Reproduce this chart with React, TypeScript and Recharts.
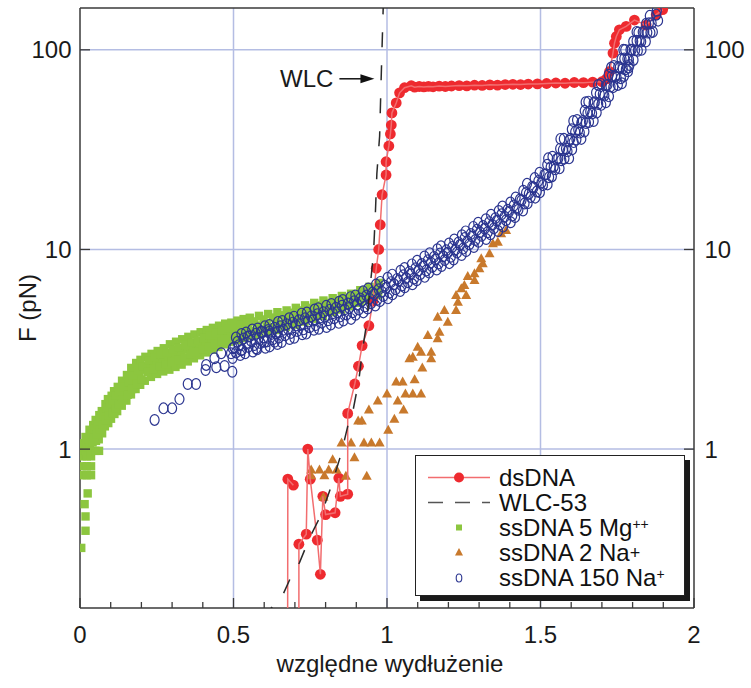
import React from "react";
import {
  ComposedChart,
  XAxis,
  YAxis,
  Line,
  Scatter,
  ReferenceLine,
  ReferenceDot,
  Legend,
  Label,
} from "recharts";

const FONT = '"Liberation Sans", Arial, Helvetica, sans-serif';
const AXIS_COLOR = "#3a3a3a";
const GRID_COLOR = "#b4bde3";
const RED = "#ee2a2f";
const RED_LINE = "#f26d6f";
const GREEN = "#8cc63f";
const ORANGE = "#c8792c";
const BLUE = "#2b3590";

// ---- axes / ticks ----
const xTicks = [0, 0.1, 0.2, 0.3, 0.4, 0.5, 0.6, 0.7, 0.8, 0.9, 1, 1.1, 1.2, 1.3, 1.4, 1.5, 1.6, 1.7, 1.8, 1.9, 2];
const xMajorTicks = [0, 0.5, 1, 1.5, 2];
const xTickLabels = ["0", "0.5", "1", "1.5", "2"];
const yTicks = [1, 10, 100];
const yTickLabels = ["1", "10", "100"];
const gridX = [0.5, 1, 1.5];
const gridY = [1, 10, 100];
const xDomain: [number, number] = [0, 2];
const yDomain: [number, number] = [0.16, 162];
const xTitle = "względne wydłużenie";
const yTitle = "F (pN)";
const wlcArrowTip = { x: 0.959, y: 71.6 };

// ---- series ----
const dsDNA: [number, number | null][] = [
  [0.676, 0.05], [0.677, 0.707], [0.695, 0.66], [0.702, null], [0.713, 0.05], [0.713, 0.334],
  [0.737, 0.375], [0.742, 1.0], [0.75, 0.707], [0.773, 0.35], [0.783, 0.236], [0.791, 0.58],
  [0.8, 0.47], [0.831, 0.48], [0.843, 0.716], [0.848, 0.58], [0.872, 0.595], [0.872, 1.51],
  [0.895, 2.12], [0.907, 2.6], [0.919, 3.3], [0.941, 4.15], [0.954, 5.5], [0.965, 8.05],
  [0.973, 10.0], [0.978, 13.3], [0.984, 18.8], [0.997, 23.6], [0.997, 27.5], [1.006, 33],
  [1.011, 37.9], [1.014, 42], [1.016, 48.3], [1.03, 54.2], [1.041, 60.9], [1.057, 64.6],
  [1.079, 66.1], [1.09, 65.0], [1.105, 65.5], [1.12, 65.2], [1.135, 65.6], [1.15, 65.3],
  [1.17, 65.8], [1.19, 65.5], [1.21, 65.9], [1.235, 66.2], [1.26, 66.0], [1.285, 66.5],
  [1.31, 66.3], [1.335, 66.8], [1.36, 66.6], [1.385, 67.0], [1.41, 67.2], [1.435, 67.0],
  [1.46, 67.4], [1.49, 67.5], [1.52, 67.8], [1.55, 68.2], [1.58, 68.0], [1.61, 68.6],
  [1.64, 68.5], [1.67, 68.9], [1.7, 69.2], [1.715, 71.5], [1.725, 77.9], [1.736, 96.3],
  [1.741, 108], [1.747, 116.6], [1.757, 126], [1.779, 131], [1.806, 141], [1.844, 133],
  [1.877, 150], [1.898, 159],
];

const wlc53: [number, number][] = [
  [0.6, 0.14], [0.623, 0.16], [0.66, 0.185], [0.693, 0.24], [0.715, 0.27], [0.748, 0.36],
  [0.786, 0.47], [0.818, 0.65], [0.851, 0.95], [0.872, 1.3], [0.889, 1.55], [0.9, 1.9],
  [0.908, 2.2], [0.921, 3.2], [0.932, 4.1], [0.945, 6.5], [0.956, 9.5], [0.962, 15],
  [0.967, 24], [0.976, 37], [0.981, 72], [0.988, 170],
];

const ssMg5: [number, number][] = [
  [0.004, 0.32], [0.018, 0.39], [0.018, 0.46], [0.015, 0.53], [0.025, 0.6],
  [0.008, 0.74], [0.022, 0.74], [0.036, 0.74], [0.008, 0.82], [0.022, 0.82], [0.036, 0.82],
  [0.008, 0.92], [0.022, 0.92], [0.036, 0.92],
  [0.006, 0.99], [0.02, 0.98], [0.035, 0.98], [0.05, 0.98], [0.062, 0.98],
  [0.01, 1.02], [0.013, 1.07], [0.021, 1.05], [0.018, 1.15],
  [0.032, 1.04], [0.028, 1.12], [0.031, 1.25], [0.041, 1.08], [0.038, 1.2], [0.043, 1.32],
  [0.052, 1.1], [0.048, 1.25], [0.051, 1.4], [0.061, 1.12], [0.058, 1.3], [0.063, 1.48],
  [0.072, 1.2], [0.068, 1.38], [0.071, 1.55], [0.081, 1.3], [0.078, 1.48], [0.083, 1.68],
  [0.092, 1.35], [0.088, 1.55], [0.091, 1.78], [0.101, 1.42], [0.098, 1.62], [0.103, 1.85],
  [0.112, 1.5], [0.108, 1.72], [0.111, 1.95], [0.121, 1.55], [0.118, 1.8], [0.123, 2.05],
  [0.136, 1.65], [0.133, 1.9], [0.137, 2.2], [0.151, 1.75], [0.148, 2.0], [0.153, 2.35],
  [0.166, 1.88], [0.163, 2.12], [0.167, 2.55], [0.181, 2.0], [0.178, 2.25], [0.183, 2.7],
  [0.196, 2.1], [0.193, 2.38], [0.197, 2.8], [0.211, 2.2], [0.208, 2.5], [0.213, 2.9],
  [0.231, 2.3], [0.228, 2.6], [0.233, 3.0], [0.251, 2.38], [0.248, 2.7], [0.253, 3.1],
  [0.271, 2.45], [0.268, 2.8], [0.273, 3.2], [0.291, 2.5], [0.288, 2.9], [0.293, 3.35],
  [0.311, 2.58], [0.308, 2.98], [0.313, 3.45], [0.331, 2.65], [0.328, 3.05], [0.333, 3.55],
  [0.351, 2.75], [0.348, 3.15], [0.353, 3.65], [0.371, 2.85], [0.368, 3.22], [0.373, 3.75],
  [0.391, 2.95], [0.388, 3.3], [0.393, 3.85], [0.411, 3.05], [0.408, 3.4], [0.413, 3.95],
  [0.431, 3.15], [0.428, 3.5], [0.433, 4.05], [0.451, 3.25], [0.448, 3.6], [0.453, 4.15],
  [0.471, 3.35], [0.468, 3.7], [0.473, 4.25], [0.491, 3.45], [0.488, 3.8], [0.493, 4.3],
  [0.511, 3.52], [0.508, 3.88], [0.513, 4.4], [0.531, 3.6], [0.528, 3.95], [0.533, 4.48],
  [0.551, 3.68], [0.548, 4.05], [0.553, 4.55], [0.581, 3.75], [0.578, 4.15], [0.583, 4.65],
  [0.611, 3.85], [0.608, 4.25], [0.613, 4.75], [0.641, 3.95], [0.638, 4.35], [0.643, 4.85],
  [0.671, 4.1], [0.668, 4.5], [0.673, 4.95], [0.701, 4.2], [0.698, 4.6], [0.703, 5.1],
  [0.731, 4.35], [0.728, 4.75], [0.733, 5.25], [0.761, 4.5], [0.758, 4.9], [0.763, 5.4],
  [0.791, 4.65], [0.788, 5.1], [0.793, 5.55], [0.821, 4.85], [0.818, 5.25], [0.823, 5.7],
  [0.851, 5.0], [0.848, 5.4], [0.853, 5.85], [0.881, 5.2], [0.878, 5.6], [0.883, 6.0],
  [0.911, 5.4], [0.908, 5.8], [0.913, 6.25], [0.941, 5.6], [0.938, 6.0], [0.943, 6.5],
  [0.971, 5.9], [0.968, 6.3], [0.973, 6.8],
  // filling between the rows of the band
  [0.045, 1.14], [0.047, 1.26], [0.055, 1.18], [0.057, 1.33], [0.065, 1.25], [0.067, 1.42],
  [0.075, 1.33], [0.077, 1.5], [0.085, 1.4], [0.087, 1.6], [0.095, 1.47], [0.097, 1.7],
  [0.105, 1.52], [0.107, 1.75], [0.115, 1.6], [0.117, 1.85], [0.125, 1.67], [0.127, 1.92],
  [0.14, 1.77], [0.143, 2.05], [0.155, 1.87], [0.158, 2.17], [0.17, 2.0], [0.173, 2.33],
  [0.185, 2.12], [0.188, 2.48], [0.2, 2.23], [0.203, 2.6], [0.22, 2.43], [0.223, 2.78],
  [0.24, 2.52], [0.243, 2.88], [0.26, 2.6], [0.263, 2.98], [0.28, 2.66], [0.283, 3.05],
  [0.3, 2.73], [0.303, 3.15], [0.32, 2.8], [0.323, 3.22], [0.34, 2.88], [0.343, 3.32],
  [0.36, 2.98], [0.363, 3.42], [0.38, 3.06], [0.383, 3.5], [0.4, 3.16], [0.403, 3.6],
  [0.42, 3.26], [0.423, 3.72], [0.44, 3.36], [0.443, 3.82], [0.46, 3.46], [0.463, 3.92],
  [0.48, 3.56], [0.483, 4.02], [0.5, 3.64], [0.503, 4.1], [0.52, 3.72], [0.523, 4.18],
  [0.54, 3.82], [0.543, 4.28], [0.565, 3.9], [0.568, 4.36], [0.595, 3.98], [0.598, 4.46],
  [0.625, 4.08], [0.628, 4.56], [0.655, 4.2], [0.658, 4.68], [0.685, 4.35], [0.688, 4.82],
  [0.715, 4.45], [0.718, 4.95], [0.745, 4.6], [0.748, 5.1], [0.775, 4.75], [0.778, 5.25],
  [0.805, 4.95], [0.808, 5.4], [0.835, 5.1], [0.838, 5.55], [0.865, 5.28], [0.868, 5.72],
  [0.895, 5.45], [0.898, 5.9], [0.925, 5.65], [0.928, 6.1], [0.955, 5.9], [0.958, 6.35],
];

const ssNa2: [number, number][] = [
  [0.753, 0.79], [0.78, 0.79], [0.81, 0.79], [0.836, 0.79],
  [0.753, 0.74], [0.796, 0.74], [0.866, 0.735], [0.934, 0.735],
  [0.793, 0.577], [0.823, 0.89], [0.894, 0.91],
  [0.852, 1.08], [0.883, 1.08], [0.925, 1.08], [0.949, 1.08], [0.976, 1.08],
  [0.906, 1.39], [0.918, 1.39], [0.941, 1.58], [0.97, 1.75], [1.0, 1.9],
  [1.004, 1.25], [1.024, 1.42], [1.054, 1.58], [1.035, 1.75],
  [1.06, 1.9], [1.084, 1.9], [1.111, 1.9],
  [1.03, 2.18], [1.051, 2.18], [1.09, 2.24], [1.115, 2.56],
  [1.073, 2.85], [1.084, 2.9], [1.111, 3.07], [1.144, 3.07], [1.144, 2.85], [1.1, 3.26],
  [1.133, 3.73], [1.165, 3.59], [1.171, 3.87], [1.198, 4.35], [1.165, 4.6],
  [1.187, 4.97], [1.225, 4.97], [1.231, 5.47], [1.225, 5.91], [1.258, 5.91],
  [1.242, 6.39], [1.252, 6.64], [1.263, 7.36], [1.285, 7.03], [1.285, 7.6],
  [1.301, 8.05], [1.312, 8.53], [1.307, 9.03], [1.334, 9.57], [1.345, 10.74],
  [1.361, 10.94], [1.372, 12.05], [1.388, 12.53],
];

const ssNa150: [number, number][] = [
  [0.243, 1.4], [0.272, 1.6], [0.3, 1.6], [0.324, 1.78], [0.351, 2.12], [0.378, 2.12],
  [0.409, 2.49], [0.411, 2.64], [0.438, 2.85], [0.444, 2.57], [0.46, 3.02], [0.471, 2.61],
  [0.492, 3.02], [0.496, 2.44], [0.498, 3.2], [0.525, 3.13], [0.547, 3.66], [0.574, 3.2],
  [0.59, 3.87], [0.601, 3.45], [0.617, 3.87], [0.634, 3.45], [0.644, 3.87],
  [0.497, 2.86], [0.503, 3.24], [0.508, 3.62], [0.522, 2.96], [0.517, 3.31], [0.526, 3.77],
  [0.538, 3.02], [0.544, 3.41], [0.541, 3.84], [0.563, 3.08], [0.557, 3.49], [0.561, 3.97],
  [0.577, 3.16], [0.583, 3.6], [0.579, 4.02], [0.604, 3.22], [0.598, 3.63], [0.602, 4.12],
  [0.618, 3.27], [0.623, 3.77], [0.617, 4.18], [0.643, 3.36], [0.638, 3.81], [0.645, 4.33],
  [0.657, 3.44], [0.662, 3.96], [0.659, 4.38], [0.683, 3.56], [0.677, 4.01], [0.681, 4.52],
  [0.698, 3.61], [0.703, 4.16], [0.697, 4.6], [0.724, 3.76], [0.718, 4.19], [0.722, 4.77],
  [0.737, 3.79], [0.743, 4.36], [0.739, 4.83], [0.762, 3.96], [0.758, 4.41], [0.764, 5.0],
  [0.778, 4.01], [0.783, 4.56], [0.776, 5.08], [0.803, 4.09], [0.797, 4.61], [0.802, 5.22],
  [0.817, 4.21], [0.823, 4.79], [0.819, 5.33], [0.843, 4.29], [0.838, 4.84], [0.844, 5.47],
  [0.858, 4.41], [0.862, 5.01], [0.856, 5.58], [0.883, 4.49], [0.877, 5.09], [0.881, 5.77],
  [0.898, 4.71], [0.903, 5.31], [0.897, 5.88], [0.923, 4.84], [0.918, 5.51], [0.922, 6.17],
  [0.937, 5.06], [0.943, 5.67], [0.939, 6.38], [0.962, 5.24], [0.958, 5.96], [0.964, 6.67],
  [0.977, 5.51], [0.983, 6.14], [0.978, 6.88], [1.003, 5.69], [0.997, 6.41], [1.002, 7.22],
  [1.018, 5.96], [1.023, 6.69], [1.017, 7.48], [1.043, 6.19], [1.038, 6.96], [1.044, 7.82],
  [1.058, 6.46], [1.062, 7.19], [1.057, 8.08], [1.083, 6.69], [1.077, 7.51], [1.081, 8.42],
  [1.097, 7.01], [1.103, 7.84], [1.098, 8.78], [1.123, 7.29], [1.118, 8.21], [1.122, 9.22],
  [1.137, 7.66], [1.143, 8.59], [1.139, 9.58], [1.162, 7.94], [1.158, 8.91], [1.164, 10.02],
  [1.178, 8.26], [1.183, 9.24], [1.176, 10.38], [1.203, 8.54], [1.197, 9.61], [1.202, 10.72],
  [1.217, 8.91], [1.223, 9.98], [1.219, 11.22], [1.243, 9.38], [1.238, 10.52], [1.244, 11.78],
  [1.258, 9.81], [1.262, 10.98], [1.256, 12.32], [1.283, 10.28], [1.277, 11.62], [1.281, 12.97],
  [1.298, 10.92], [1.303, 12.18], [1.297, 13.62], [1.323, 11.28], [1.318, 12.72], [1.322, 14.18],
  [1.337, 11.92], [1.343, 13.28], [1.339, 14.92], [1.362, 12.38], [1.358, 13.92], [1.364, 15.58],
  [1.378, 13.02], [1.383, 14.58], [1.376, 16.42], [1.403, 13.68], [1.397, 15.42], [1.402, 17.18],
  [1.417, 14.52], [1.423, 16.18], [1.419, 18.22], [1.443, 15.68], [1.438, 17.62], [1.444, 19.68],
  [1.458, 17.02], [1.462, 18.98], [1.456, 21.32], [1.483, 18.18], [1.477, 20.42], [1.481, 22.78],
  [1.498, 19.32], [1.503, 21.58], [1.497, 24.22], [1.523, 21.18], [1.518, 23.82], [1.522, 26.58],
  [1.537, 23.22], [1.543, 25.98], [1.539, 29.12], [1.562, 25.48], [1.558, 28.62], [1.564, 31.98],
  [1.578, 28.52], [1.583, 31.98], [1.576, 35.82], [1.603, 31.78], [1.597, 35.82], [1.602, 39.98],
  [1.617, 35.52], [1.623, 39.78], [1.619, 44.52], [1.643, 38.98], [1.638, 44.02], [1.644, 49.48],
  [1.658, 43.52], [1.662, 48.98], [1.656, 55.02], [1.683, 48.48], [1.677, 54.62], [1.681, 60.98],
  [1.698, 53.02], [1.703, 59.98], [1.697, 67.52], [1.723, 58.48], [1.718, 66.72], [1.722, 74.98],
  [1.737, 65.02], [1.743, 73.78], [1.739, 82.98], [1.762, 72.02], [1.758, 81.48], [1.764, 90.02],
  [1.778, 80.02], [1.783, 89.98], [1.776, 99.8], [1.803, 89.0], [1.797, 100], [1.802, 110],
  [1.817, 99.0], [1.823, 111], [1.819, 122], [1.843, 110], [1.838, 123], [1.844, 135],
  [1.858, 122], [1.862, 136], [1.856, 148], [1.883, 140], [1.877, 150], [1.879, 157],
  [1.593, 28.6], [1.525, 28.6], [1.633, 35.8], [1.565, 35.8], [1.673, 44.0], [1.607, 44.0],
  [1.713, 54.6], [1.647, 54.6], [1.752, 66.7], [1.688, 66.7], [1.787, 81.5], [1.73, 81.5],
  [1.829, 100], [1.77, 100], [1.866, 123], [1.813, 123],
  [1.772, 74], [1.785, 78], [1.79, 84], [1.765, 68],
  // filling between the rows of the band
  [0.508, 3.05], [0.513, 3.45], [0.528, 3.15], [0.533, 3.58], [0.548, 3.25], [0.553, 3.68],
  [0.568, 3.32], [0.573, 3.78], [0.588, 3.4], [0.593, 3.86], [0.608, 3.46], [0.613, 3.95],
  [0.628, 3.55], [0.633, 4.05], [0.648, 3.62], [0.653, 4.12], [0.668, 3.72], [0.673, 4.22],
  [0.688, 3.82], [0.693, 4.3], [0.708, 3.9], [0.713, 4.42], [0.728, 3.98], [0.733, 4.52],
  [0.748, 4.08], [0.753, 4.62], [0.768, 4.18], [0.773, 4.74], [0.788, 4.3], [0.793, 4.85],
  [0.808, 4.42], [0.813, 4.98], [0.828, 4.52], [0.833, 5.1], [0.848, 4.62], [0.853, 5.22],
  [0.868, 4.72], [0.873, 5.36], [0.888, 4.85], [0.893, 5.5], [0.908, 5.0], [0.913, 5.68],
  [0.928, 5.18], [0.933, 5.88], [0.948, 5.38], [0.953, 6.08], [0.968, 5.6], [0.973, 6.32],
  [0.988, 5.85], [0.993, 6.58], [1.008, 6.08], [1.013, 6.86], [1.028, 6.32], [1.033, 7.12],
  [1.048, 6.6], [1.053, 7.42], [1.068, 6.85], [1.073, 7.72], [1.088, 7.15], [1.093, 8.05],
  [1.108, 7.5], [1.113, 8.45], [1.128, 7.85], [1.133, 8.82], [1.148, 8.18], [1.153, 9.18],
  [1.168, 8.5], [1.173, 9.55], [1.188, 8.85], [1.193, 9.9], [1.208, 9.2], [1.213, 10.3],
  [1.228, 9.65], [1.233, 10.85], [1.248, 10.1], [1.253, 11.4], [1.268, 10.6], [1.273, 11.95],
  [1.288, 11.15], [1.293, 12.55], [1.308, 11.7], [1.313, 13.1], [1.328, 12.2], [1.333, 13.7],
  [1.348, 12.75], [1.353, 14.35], [1.368, 13.35], [1.373, 15.0], [1.388, 14.0], [1.393, 15.8],
  [1.408, 14.8], [1.413, 16.6], [1.428, 15.8], [1.433, 17.8], [1.448, 17.0], [1.453, 19.2],
  [1.468, 18.3], [1.473, 20.6], [1.488, 19.5], [1.493, 22.0], [1.508, 21.0], [1.513, 23.7],
  [1.528, 23.0], [1.533, 25.8], [1.548, 25.2], [1.553, 28.4], [1.568, 28.0], [1.573, 31.5],
  [1.588, 31.0], [1.593, 35.0], [1.608, 34.5], [1.613, 38.8], [1.628, 38.5], [1.633, 43.2],
  [1.648, 43.0], [1.653, 48.2], [1.668, 48.0], [1.673, 54.0], [1.688, 53.5], [1.693, 60.0],
  [1.708, 59.0], [1.713, 66.5], [1.728, 65.5], [1.733, 74.0], [1.748, 72.5], [1.753, 82.0],
  [1.768, 80.5], [1.773, 90.5], [1.788, 89.5], [1.793, 100], [1.808, 99.5], [1.813, 111],
  [1.828, 110], [1.833, 123], [1.848, 122], [1.853, 136],
];

const toPts = (arr: [number, number | null][]) => arr.map(([x, y]) => ({ x, y }));

// ---- tick renderers ----
const majorIndex = (v: number) => xMajorTicks.findIndex((m) => Math.abs(m - v) < 1e-6);
const yIndex = (v: number) => yTicks.findIndex((m) => Math.abs(m - v) < 1e-6 * m);

function BottomTick(props: any) {
  const { x, y, payload } = props;
  const i = majorIndex(payload.value);
  return (
    <g>
      <line x1={x} x2={x} y1={y} y2={y - (i >= 0 ? 10 : 6)} stroke={AXIS_COLOR} strokeWidth={1.3} />
      {i >= 0 && (
        <text x={x} y={y + 35} textAnchor="middle" fontFamily={FONT} fontSize={24} fill="#1a1a1a">
          {xTickLabels[i]}
        </text>
      )}
    </g>
  );
}

function TopTick(props: any) {
  const { x, y, payload } = props;
  const i = majorIndex(payload.value);
  return <line x1={x} x2={x} y1={y} y2={y + (i >= 0 ? 10 : 6)} stroke={AXIS_COLOR} strokeWidth={1.3} />;
}

function LeftTick(props: any) {
  const { x, y, payload } = props;
  const i = yIndex(payload.value);
  return (
    <g>
      <line x1={x} x2={x + 10} y1={y} y2={y} stroke={AXIS_COLOR} strokeWidth={1.3} />
      <text x={x - 8.5} y={y + 8.5} textAnchor="end" fontFamily={FONT} fontSize={24} fill="#1a1a1a">
        {i >= 0 ? yTickLabels[i] : ""}
      </text>
    </g>
  );
}

function RightTick(props: any) {
  const { x, y, payload } = props;
  const i = yIndex(payload.value);
  return (
    <g>
      <line x1={x - 10} x2={x} y1={y} y2={y} stroke={AXIS_COLOR} strokeWidth={1.3} />
      <text x={x + 10.5} y={y + 8.5} textAnchor="start" fontFamily={FONT} fontSize={24} fill="#1a1a1a">
        {i >= 0 ? yTickLabels[i] : ""}
      </text>
    </g>
  );
}

function XTitle(props: any) {
  const vb = props.viewBox || { x: 80, y: 608, width: 614, height: 80 };
  return (
    <text x={vb.x + vb.width / 2 + 3} y={vb.y + 64} textAnchor="middle" fontFamily={FONT} fontSize={24} fill="#1a1a1a">
      {xTitle}
    </text>
  );
}

function YTitle(props: any) {
  const vb = props.viewBox || { x: 0, y: 8, width: 80, height: 600 };
  const cx = vb.x + 27;
  const cy = vb.y + vb.height / 2;
  return (
    <text
      x={cx}
      y={cy}
      transform={`rotate(-90 ${cx} ${cy})`}
      textAnchor="middle"
      dominantBaseline="central"
      fontFamily={FONT}
      fontSize={24}
      fill="#1a1a1a"
    >
      {yTitle}
    </text>
  );
}

// ---- markers ----
const GreenSquare = (p: any) =>
  p.cx == null || p.cy == null ? <g /> : <rect x={p.cx - 4.2} y={p.cy - 4.2} width={8.4} height={8.4} fill={GREEN} />;
const OrangeTri = (p: any) =>
  p.cx == null || p.cy == null ? (
    <g />
  ) : (
    <polygon points={`${p.cx},${p.cy - 5} ${p.cx + 5},${p.cy + 4} ${p.cx - 5},${p.cy + 4}`} fill={ORANGE} />
  );
const BlueCircle = (p: any) =>
  p.cx == null || p.cy == null ? (
    <g />
  ) : (
    <ellipse cx={p.cx} cy={p.cy} rx={4.5} ry={5.4} fill="none" stroke={BLUE} strokeWidth={1.2} />
  );
const RedDot = (p: any) =>
  p.cx == null || p.cy == null || isNaN(p.cy) ? <g key={p.key} /> : <circle key={p.key} cx={p.cx} cy={p.cy} r={5.4} fill={RED} />;

const WlcArrow = (p: any) => {
  const { cx, cy } = p;
  if (cx == null || cy == null) return <g />;
  return (
    <g>
      <line x1={cx - 35} y1={cy} x2={cx - 12} y2={cy} stroke="#111" strokeWidth={1.5} />
      <polygon points={`${cx},${cy} ${cx - 14},${cy - 4.5} ${cx - 14},${cy + 4.5}`} fill="#111" />
      <text x={cx - 41} y={cy + 8} textAnchor="end" fontFamily={FONT} fontSize={24} fill="#1a1a1a">
        WLC
      </text>
    </g>
  );
};

// ---- legend ----
const supStyle: React.CSSProperties = { fontSize: 14, position: "relative", top: -7, lineHeight: 0 };
const legendRows = [
  { key: "ds", label: <>dsDNA</> },
  { key: "wlc", label: <>WLC-53</> },
  { key: "mg", label: <>ssDNA 5 Mg<span style={supStyle}>++</span></> },
  { key: "na2", label: <>ssDNA 2 Na<span style={{ fontSize: 18, position: "relative", top: -2, lineHeight: 0 }}>+</span></> },
  { key: "na150", label: <>ssDNA 150 Na<span style={supStyle}>+</span></> },
];

function LegendIcon({ k }: { k: string }) {
  return (
    <svg width={64} height={25} style={{ display: "block" }}>
      {k === "ds" && (
        <>
          <line x1={0} x2={62} y1={12.5} y2={12.5} stroke={RED_LINE} strokeWidth={1.5} />
          <circle cx={31} cy={12.5} r={5} fill={RED} />
        </>
      )}
      {k === "wlc" && (
        <line x1={0} x2={62} y1={12.5} y2={12.5} stroke="#555" strokeWidth={1.5} strokeDasharray="15 12" />
      )}
      {k === "mg" && <rect x={28} y={9.5} width={6} height={6} fill={GREEN} />}
      {k === "na2" && <polygon points="31,8 35,15.5 27,15.5" fill={ORANGE} />}
      {k === "na150" && <ellipse cx={31} cy={13} rx={2.8} ry={4} fill="none" stroke={BLUE} strokeWidth={1.1} />}
    </svg>
  );
}

function LegendBox() {
  return (
    <div
      style={{
        width: 270,
        height: 141,
        boxSizing: "border-box",
        border: "1.5px solid #222",
        background: "#fff",
        boxShadow: "5px 5px 0 #1a1a1a",
        fontFamily: FONT,
        fontSize: 24,
        color: "#111",
        position: "relative",
      }}
    >
      {legendRows.map((r, i) => (
        <div
          key={r.key}
          style={{ position: "absolute", left: 12, top: 8.5 + i * 25, height: 25, display: "flex", alignItems: "center", whiteSpace: "nowrap" }}
        >
          <LegendIcon k={r.key} />
          <span style={{ marginLeft: 7, lineHeight: "25px" }}>{r.label}</span>
        </div>
      ))}
    </div>
  );
}

export default function App() {
  return (
    <div style={{ position: "absolute", left: 0, top: 0, width: 751, height: 688, background: "#fff" }}>
      <ComposedChart width={751} height={688} margin={{ top: 7, right: 0, bottom: 0, left: 0 }}>
        <XAxis
          xAxisId="b"
          dataKey="x"
          type="number"
          domain={xDomain}
          ticks={xTicks}
          interval={0}
          tick={BottomTick}
          tickLine={false}
          tickSize={0}
          tickMargin={0}
          height={80}
          allowDataOverflow
          axisLine={{ stroke: AXIS_COLOR, strokeWidth: 1.5 }}
        >
          <Label content={XTitle} />
        </XAxis>
        <XAxis
          xAxisId="t"
          orientation="top"
          type="number"
          domain={xDomain}
          ticks={xTicks}
          interval={0}
          tick={TopTick}
          tickLine={false}
          tickSize={0}
          tickMargin={0}
          height={1}
          allowDataOverflow
          axisLine={{ stroke: AXIS_COLOR, strokeWidth: 1.5 }}
        />
        <YAxis
          yAxisId="l"
          dataKey="y"
          type="number"
          scale="log"
          domain={yDomain}
          allowDataOverflow
          ticks={yTicks}
          interval={0}
          tick={LeftTick}
          tickLine={false}
          tickSize={0}
          tickMargin={0}
          width={80}
          axisLine={{ stroke: AXIS_COLOR, strokeWidth: 1.5 }}
        >
          <Label content={YTitle} />
        </YAxis>
        <YAxis
          yAxisId="r"
          orientation="right"
          type="number"
          scale="log"
          domain={yDomain}
          allowDataOverflow
          ticks={yTicks}
          interval={0}
          tick={RightTick}
          tickLine={false}
          tickSize={0}
          tickMargin={0}
          width={57}
          axisLine={{ stroke: AXIS_COLOR, strokeWidth: 1.5 }}
        />

        {gridX.map((v) => (
          <ReferenceLine key={"gx" + v} x={v} xAxisId="b" yAxisId="l" stroke={GRID_COLOR} strokeWidth={1.5} zIndex={-10} />
        ))}
        {gridY.map((v) => (
          <ReferenceLine key={"gy" + v} y={v} xAxisId="b" yAxisId="l" stroke={GRID_COLOR} strokeWidth={1.5} zIndex={-10} />
        ))}

        <Scatter
          name="ssDNA 5 Mg++"
          data={toPts(ssMg5)}
          xAxisId="b"
          yAxisId="l"
          dataKey="y"
          shape={GreenSquare}
          isAnimationActive={false}
          zIndex={600}
        />
        <Scatter
          name="ssDNA 2 Na+"
          data={toPts(ssNa2)}
          xAxisId="b"
          yAxisId="l"
          dataKey="y"
          shape={OrangeTri}
          isAnimationActive={false}
          zIndex={601}
        />
        <Line
          name="dsDNA"
          data={toPts(dsDNA)}
          xAxisId="b"
          yAxisId="l"
          dataKey="y"
          type="linear"
          stroke={RED_LINE}
          strokeWidth={1.5}
          dot={RedDot}
          activeDot={false}
          connectNulls={false}
          isAnimationActive={false}
          zIndex={602}
        />
        <Scatter
          name="ssDNA 150 Na+"
          data={toPts(ssNa150)}
          xAxisId="b"
          yAxisId="l"
          dataKey="y"
          shape={BlueCircle}
          isAnimationActive={false}
          zIndex={603}
        />
        <Line
          name="WLC-53"
          data={toPts(wlc53)}
          xAxisId="b"
          yAxisId="l"
          dataKey="y"
          type="linear"
          stroke="#2a2a2a"
          strokeWidth={1.5}
          strokeDasharray="15 18"
          dot={false}
          activeDot={false}
          isAnimationActive={false}
          zIndex={604}
        />
        <ReferenceDot
          x={wlcArrowTip.x}
          y={wlcArrowTip.y}
          xAxisId="b"
          yAxisId="l"
          shape={WlcArrow}
          zIndex={605}
        />
        <Legend
          layout="vertical"
          align="center"
          verticalAlign="middle"
          wrapperStyle={{ left: 415, top: 455, width: 272, height: 143, margin: 0 }}
          content={LegendBox}
        />
      </ComposedChart>
    </div>
  );
}
